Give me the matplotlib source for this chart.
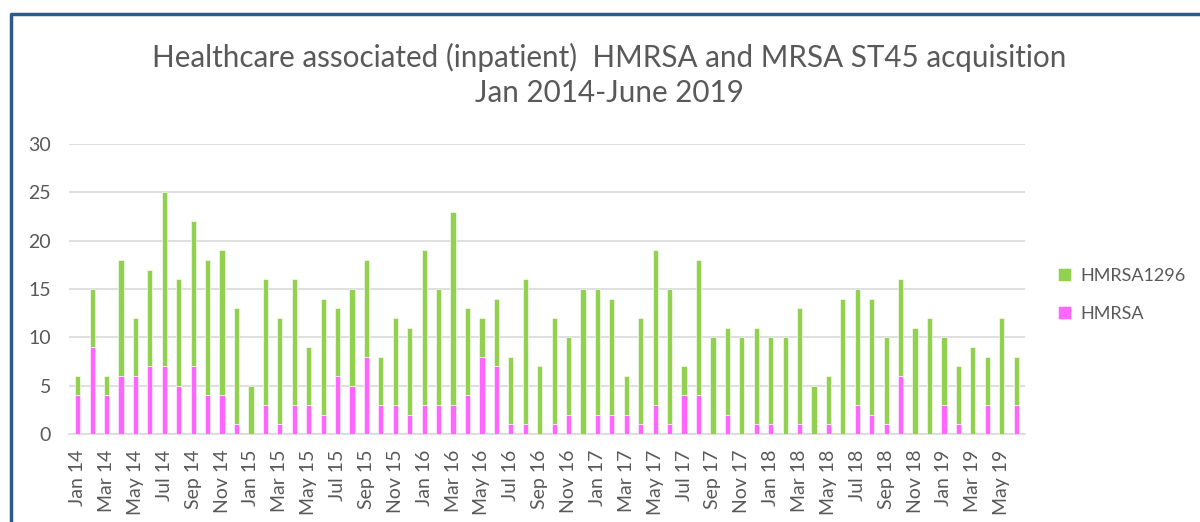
import matplotlib.pyplot as plt
import matplotlib as mpl
import numpy as np

months = [f"{m} {y}" for y in range(14, 20)
          for m in ["Jan", "Feb", "Mar", "Apr", "May", "Jun",
                    "Jul", "Aug", "Sep", "Oct", "Nov", "Dec"]][:66]

hmrsa = [4, 9, 4, 6, 6, 7, 7, 5, 7, 4, 4, 1,
         0, 3, 1, 3, 3, 2, 6, 5, 8, 3, 3, 2,
         3, 3, 3, 4, 8, 7, 1, 1, 0, 1, 2, 0,
         2, 2, 2, 1, 3, 1, 4, 4, 0, 2, 0, 1,
         1, 0, 1, 0, 1, 0, 3, 2, 1, 6, 0, 0,
         3, 1, 0, 3, 0, 3]
totals = [6, 15, 6, 18, 12, 17, 25, 16, 22, 18, 19, 13,
          5, 16, 12, 16, 9, 14, 13, 15, 18, 8, 12, 11,
          19, 15, 23, 13, 12, 14, 8, 16, 7, 12, 10, 15,
          15, 14, 6, 12, 19, 15, 7, 18, 10, 11, 10, 11,
          10, 10, 13, 5, 6, 14, 15, 14, 10, 16, 11, 12,
          10, 7, 9, 8, 12, 8]
hmrsa1296 = [t - h for t, h in zip(totals, hmrsa)]

title = "Healthcare associated (inpatient)  HMRSA and MRSA ST45 acquisition\nJan 2014-June 2019"

GREEN = "#92D050"
PINK = "#FF66FF"
GREY = "#595959"

mpl.rc("font", family="Lato")

fig = plt.figure(figsize=(12, 5.22), dpi=100)
ax = fig.add_axes([0.0575, 0.1686, 0.7965, 0.5554])

x = np.arange(len(months))
ax.bar(x, hmrsa, width=0.36, color=PINK, label="HMRSA", zorder=3,
       edgecolor="white", linewidth=0.4)
ax.bar(x, hmrsa1296, width=0.36, bottom=hmrsa, color=GREEN,
       label="HMRSA1296", zorder=3, edgecolor="white", linewidth=0.4)

ax.set_ylim(0, 30)
ax.set_yticks(range(0, 31, 5))
ax.set_xlim(-0.6, len(months) - 0.4)
ax.set_xticks(x[::2])
ax.set_xticklabels(months[::2], rotation=90)
ax.tick_params(axis="both", length=0, labelsize=14, labelcolor=GREY)
ax.tick_params(axis="y", pad=13)
ax.tick_params(axis="x", pad=11)
ax.grid(axis="y", color="#d9d9d9", linewidth=1.2, zorder=0)
for s in ["top", "right", "left"]:
    ax.spines[s].set_visible(False)
ax.spines["bottom"].set_color("#d9d9d9")
ax.spines["bottom"].set_linewidth(1.2)

handles, labels = ax.get_legend_handles_labels()
ax.legend(handles[::-1], labels[::-1], loc="center left",
          bbox_to_anchor=(1.018, 0.48), frameon=False, fontsize=13,
          labelcolor=GREY, handlelength=0.7, handleheight=0.7,
          labelspacing=1.2, handletextpad=0.5)

fig.text(0.508, 0.918, title, ha="center", va="top", fontsize=21.3,
         color=GREY, linespacing=1.3)

# outer chart frame
fig.add_artist(plt.Line2D([0.009, 0.009, 1.0], [0.0, 0.974, 0.974],
                          transform=fig.transFigure, color="#2e5a88",
                          linewidth=2.5))

fig.savefig("out.png", dpi=100)
